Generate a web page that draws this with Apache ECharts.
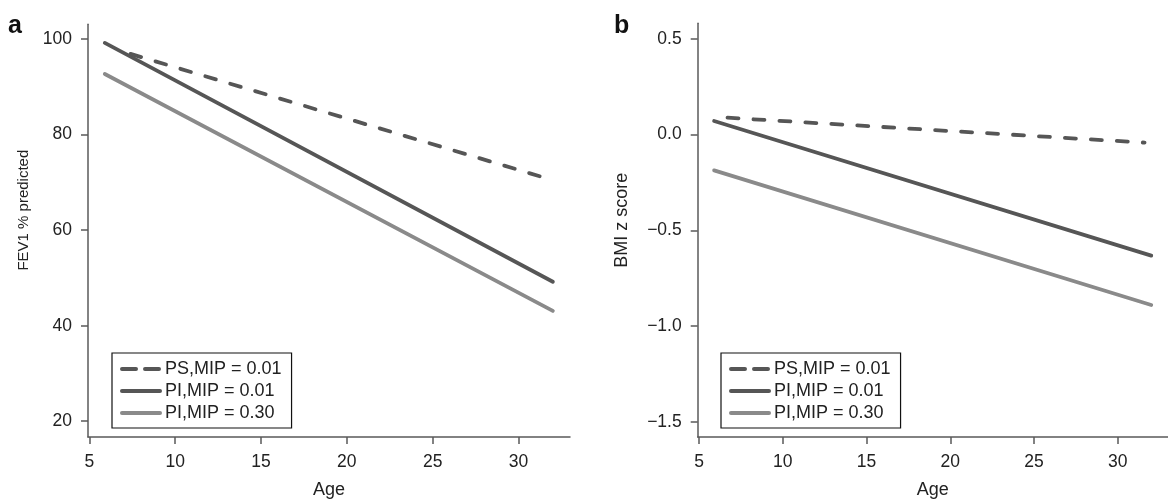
<!DOCTYPE html>
<html>
<head>
<meta charset="utf-8">
<script src="https://cdn.jsdelivr.net/npm/echarts@6/dist/echarts.min.js"></script>
<style>
html,body{margin:0;padding:0;background:#fff;}
#c{width:1168px;height:504px;}
</style>
</head>
<body>
<div id="c"></div>
<script>
// ---- data ----
const seriesNames = ['PS,MIP = 0.01', 'PI,MIP = 0.01', 'PI,MIP = 0.30'];
const xTicks = [5, 10, 15, 20, 25, 30];
const fevTicks = [20, 40, 60, 80, 100];
const bmiTicks = [-1.5, -1.0, -0.5, 0.0, 0.5];
// Panel a: FEV1 % predicted vs Age  [age, value]
const fevPS   = [[7.4, 96.9], [31.6, 70.9]];
const fevPI01 = [[5.9, 99.2], [32.0, 49.2]];
const fevPI30 = [[5.9, 92.7], [32.0, 43.1]];
// Panel b: BMI z score vs Age
const bmiPS   = [[6.7, 0.088], [31.6, -0.042]];
const bmiPI01 = [[5.9, 0.071], [32.0, -0.632]];
const bmiPI30 = [[5.9, -0.187], [32.0, -0.890]];

const FONT = '"Liberation Sans", Arial, Helvetica, sans-serif';
const axisCol = '#5a5a5a';
const txtCol = '#222';
const colDark = '#565656';
const colLight = '#8a8a8a';

function xAxisDef(gi) {
  return {
    type: 'value', gridIndex: gi, min: 4.92, max: 33.0,
    name: 'Age', nameLocation: 'middle', nameGap: 44,
    nameTextStyle: {fontFamily: FONT, fontSize: 18, color: txtCol},
    axisLine: {show: true, onZero: false, lineStyle: {color: axisCol, width: 1.5}},
    axisTick: {show: true, length: 7, lineStyle: {color: axisCol, width: 1.5}, customValues: xTicks},
    axisLabel: {fontFamily: FONT, fontSize: 17.5, color: txtCol, margin: 16, customValues: xTicks},
    splitLine: {show: false}
  };
}
function yAxisDef(gi, min, max, ticks, name, gap, shift, fs, fmt) {
  return {
    type: 'value', gridIndex: gi, min: min, max: max,
    name: name, nameLocation: 'middle', nameGap: gap,
    nameTextStyle: {fontFamily: FONT, fontSize: fs, color: txtCol, padding: [0, 0, 0, shift]},
    axisLine: {show: true, onZero: false, lineStyle: {color: axisCol, width: 1.5}},
    axisTick: {show: true, length: 7, lineStyle: {color: axisCol, width: 1.5}, customValues: ticks},
    axisLabel: {fontFamily: FONT, fontSize: 17.5, color: txtCol, margin: 16, customValues: ticks, formatter: fmt},
    splitLine: {show: false}
  };
}
function lineSeries(name, data, gi, color, dashed) {
  return {
    type: 'line', name: name, xAxisIndex: gi, yAxisIndex: gi, data: data,
    showSymbol: false, symbol: 'none', silent: true,
    z: dashed ? 3 : 2,
    lineStyle: {color: color, width: 3.8, cap: 'round', type: dashed ? [11, 15] : 'solid'},
    itemStyle: {color: color}
  };
}
function legendDef(left) {
  return {
    data: [
      {name: seriesNames[0], lineStyle: {type: [14, 9]}},
      {name: seriesNames[1]},
      {name: seriesNames[2]}
    ],
    orient: 'vertical', left: left, top: 353,
    padding: [7, 10, 6, 8], itemGap: 4, itemWidth: 38, itemHeight: 18,
    borderColor: '#111', borderWidth: 1.2, borderRadius: 0,
    selectedMode: false,
    itemStyle: {color: 'transparent', borderColor: 'transparent', borderWidth: 0, opacity: 0},
    lineStyle: {width: 4, cap: 'round'},
    textStyle: {fontFamily: FONT, fontSize: 18, color: txtCol, lineHeight: 18}
  };
}

const chart = echarts.init(document.getElementById('c'), null, {renderer: 'canvas'});
chart.setOption({
  animation: false,
  backgroundColor: '#fff',
  title: [
    {text: 'a', left: 3, top: 9, textStyle: {fontFamily: FONT, fontSize: 25, fontWeight: 'bold', color: '#111'}},
    {text: 'b', left: 609, top: 9, textStyle: {fontFamily: FONT, fontSize: 25, fontWeight: 'bold', color: '#111'}}
  ],
  grid: [
    {left: 88, top: 24.3, width: 482, height: 417.4, containLabel: false},
    {left: 697.7, top: 23.3, width: 481, height: 416.7, containLabel: false}
  ],
  legend: [legendDef(112), legendDef(721)],
  xAxis: [xAxisDef(0), xAxisDef(1)],
  yAxis: [
    yAxisDef(0, 16.7, 103.1, fevTicks, 'FEV1 % predicted', 57, 41, 15, v => String(v)),
    yAxisDef(1, -1.579, 0.581, bmiTicks, 'BMI z score', 67, 20, 18, v => (v < 0 ? '\u2212' : '') + Math.abs(v).toFixed(1))
  ],
  series: [
    lineSeries(seriesNames[0], fevPS, 0, colDark, true),
    lineSeries(seriesNames[1], fevPI01, 0, colDark, false),
    lineSeries(seriesNames[2], fevPI30, 0, colLight, false),
    lineSeries(seriesNames[0], bmiPS, 1, colDark, true),
    lineSeries(seriesNames[1], bmiPI01, 1, colDark, false),
    lineSeries(seriesNames[2], bmiPI30, 1, colLight, false)
  ]
});
</script>
</body>
</html>
